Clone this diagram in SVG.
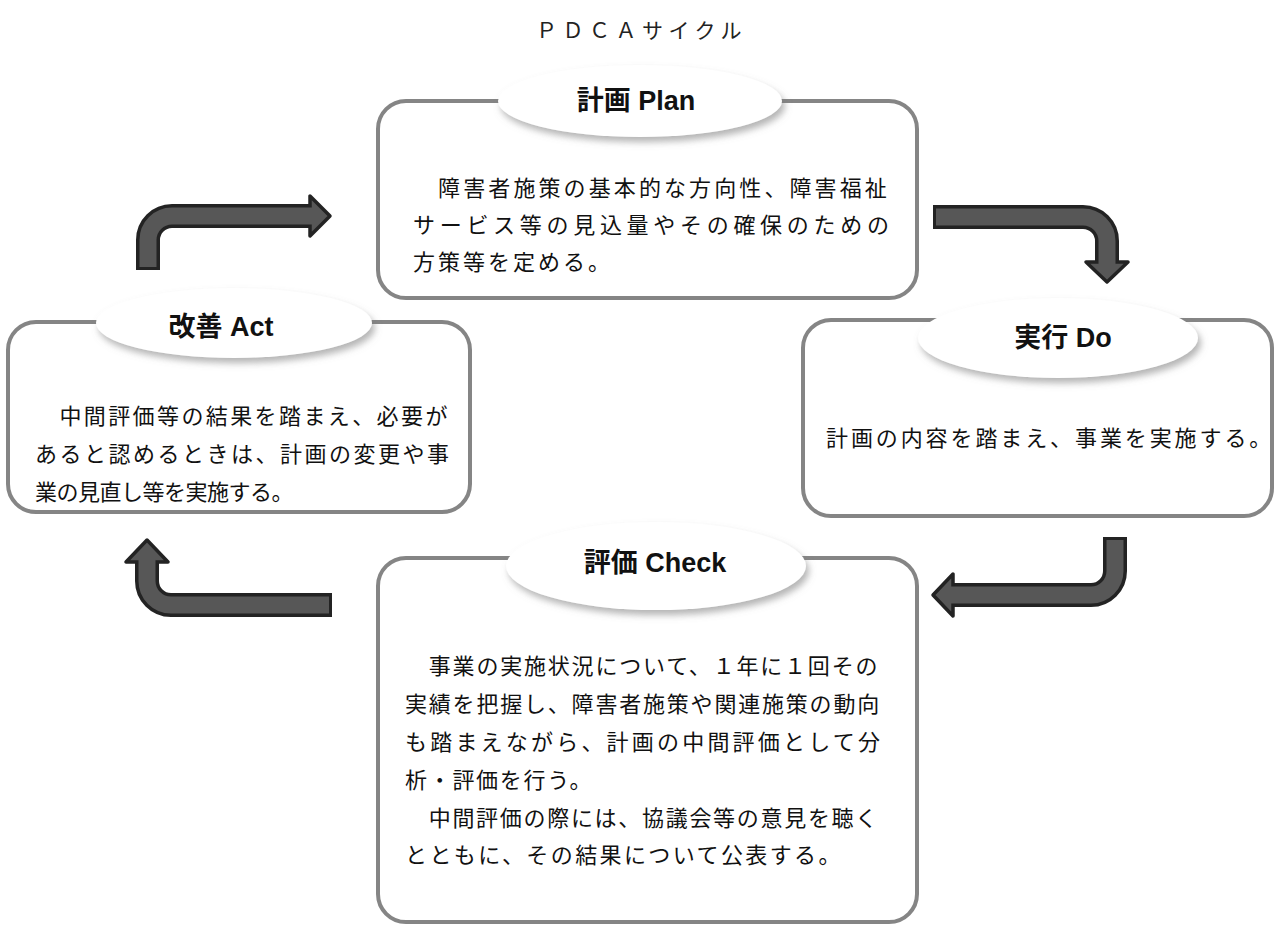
<svg xmlns="http://www.w3.org/2000/svg" width="1275" height="928" viewBox="0 0 1275 928">
<style>
.box{fill:#fff;stroke:#858585;stroke-width:4}
.ell{fill:#fff;filter:url(#sh)}
.hd{font-family:"Liberation Sans","Noto Sans CJK JP",sans-serif;font-size:27px;font-weight:bold;fill:#111;text-anchor:middle}
.tx{font-family:"Noto Sans CJK JP",sans-serif;font-size:22px;fill:#111}
.ttl{font-family:"Noto Sans CJK JP",sans-serif;font-size:21px;fill:#222}
.sh-o{fill:none;stroke:#232323;stroke-width:24}
.sh-i{fill:none;stroke:#575757;stroke-width:17}
.head{fill:#575757;stroke:#232323;stroke-width:3.5;stroke-linejoin:round}
</style>
<defs>
<filter id="sh" x="-20%" y="-30%" width="140%" height="170%">
<feGaussianBlur in="SourceAlpha" stdDeviation="3.5"/>
<feOffset dx="3" dy="5" result="b"/>
<feFlood flood-color="#777" flood-opacity="0.55"/>
<feComposite in2="b" operator="in"/>
<feMerge><feMergeNode/><feMergeNode in="SourceGraphic"/></feMerge>
</filter>
</defs>
<rect width="1275" height="928" fill="#fff"/>
<text class="ttl" x="536" y="38" letter-spacing="5.5">ＰＤＣＡサイクル</text>

<g id="plan">
<rect class="box" x="378" y="101" width="539" height="197" rx="28"/>
<ellipse class="ell" cx="640" cy="101" rx="142" ry="36"/>
<text class="hd" x="636" y="110">計画 Plan</text>
<text class="tx" x="413" y="196" letter-spacing="3.1">　障害者施策の基本的な方向性、障害福祉</text>
<text class="tx" x="413" y="233" letter-spacing="4.7">サービス等の見込量やその確保のための</text>
<text class="tx" x="413" y="270" letter-spacing="3">方策等を定める。</text>
</g>

<g id="act">
<rect class="box" x="8" y="322" width="462" height="190" rx="28"/>
<ellipse class="ell" cx="234" cy="323" rx="138" ry="35"/>
<text class="hd" x="221" y="336">改善 Act</text>
<text class="tx" x="35" y="424" letter-spacing="2.4">　中間評価等の結果を踏まえ、必要が</text>
<text class="tx" x="35" y="462" letter-spacing="2.5">あると認めるときは、計画の変更や事</text>
<text class="tx" x="35" y="500" letter-spacing="-0.5">業の見直し等を実施する。</text>
</g>

<g id="do">
<rect class="box" x="803" y="320" width="469" height="196" rx="28"/>
<ellipse class="ell" cx="1058" cy="338" rx="140" ry="40"/>
<text class="hd" x="1063" y="347">実行 Do</text>
<text class="tx" x="826" y="446" letter-spacing="2.9">計画の内容を踏まえ、事業を実施する。</text>
</g>

<g id="check">
<rect class="box" x="378" y="558" width="539" height="364" rx="28"/>
<ellipse class="ell" cx="656" cy="566" rx="150" ry="44"/>
<text class="hd" x="655" y="572">評価 Check</text>
<text class="tx" x="405" y="674" letter-spacing="1.8">　事業の実施状況について、１年に１回その</text>
<text class="tx" x="405" y="712" letter-spacing="1.8">実績を把握し、障害者施策や関連施策の動向</text>
<text class="tx" x="405" y="750" letter-spacing="3.2">も踏まえながら、計画の中間評価として分</text>
<text class="tx" x="405" y="788" letter-spacing="1.7">析・評価を行う。</text>
<text class="tx" x="405" y="826" letter-spacing="1.7">　中間評価の際には、協議会等の意見を聴く</text>
<text class="tx" x="405" y="863" letter-spacing="2.4">とともに、その結果について公表する。</text>
</g>

<g id="connectors">
<path class="sh-o" d="M148,270 L148,240 A24,24 0 0 1 172,216 L312,216"/>
<polygon class="head" points="330,216 310,196 310,236"/>
<path class="sh-i" d="M148,267 L148,240 A24,24 0 0 1 172,216 L313,216"/>

<path class="sh-o" d="M933,217 L1083,217 A24,24 0 0 1 1107,241 L1107,264"/>
<polygon class="head" points="1107,282 1086,262 1128,262"/>
<path class="sh-i" d="M936,217 L1083,217 A24,24 0 0 1 1107,241 L1107,265"/>

<path class="sh-o" d="M1115,537 L1115,571 A24,24 0 0 1 1091,595 L951,595"/>
<polygon class="head" points="933,595 953,574 953,616"/>
<path class="sh-i" d="M1115,540 L1115,571 A24,24 0 0 1 1091,595 L950,595"/>

<path class="sh-o" d="M332,605 L171,605 A24,24 0 0 1 147,581 L147,560"/>
<polygon class="head" points="147,540 126,562 168,562"/>
<path class="sh-i" d="M329,605 L171,605 A24,24 0 0 1 147,581 L147,559"/>
</g>
</svg>
